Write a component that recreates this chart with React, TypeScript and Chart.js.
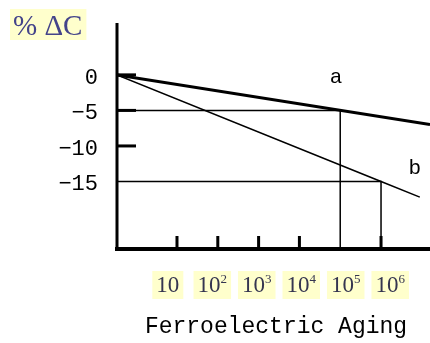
import React, { useEffect, useRef } from "react";
import { Chart, registerables } from "chart.js";

Chart.register(...registerables);

// ---- data ----
const xTickValues = [1, 2, 3, 4, 5, 6]; // log10 of aging time
const xTickExponents = ["", "2", "3", "4", "5", "6"];
const xThickTicks = [1, 2, 3, 4, 6];
const yTickValues = [0, -5, -10, -15];
const yTickLabels = ["0", "\u22125", "\u221210", "\u221215"];
const yThickTicks = [0, -5, -10];

const lineAX = [-0.47, 7.2];
const lineAY = [0, -7.0];
const lineBX = [-0.47, 6, 6.95];
const lineBY = [0, -15, -17.2];
const guide5X = [-0.47, 5, 5];
const guide5Y = [-5, -5, -24.5];
const guide15X = [-0.47, 6, 6];
const guide15Y = [-15, -15, -24.5];

const curveNames = ["a", "b"];
const curveNameX = [4.9, 6.83];
const curveNameY = [-0.3, -13.1];

const X_MIN = -0.47;
const X_MAX = 7.2;
const Y_MIN = -24.5;
const Y_MAX = 7.3;

const toPts = (xs: number[], ys: number[]) => xs.map((x, i) => ({ x, y: ys[i] }));

const decorPlugin = {
  id: "decor",
  afterDatasetsDraw(chart: any) {
    const ctx = chart.ctx as CanvasRenderingContext2D;
    const xs = chart.scales.x;
    const ys = chart.scales.y;
    const area = chart.chartArea;
    ctx.save();
    ctx.fillStyle = "#000";
    // axes
    const axL = xs.getPixelForValue(X_MIN);
    const axB = ys.getPixelForValue(Y_MIN);
    ctx.fillRect(axL - 1.5, area.top, 3, axB - area.top + 2);
    ctx.fillRect(axL - 2, axB - 2, area.right - axL + 2, 4);
    // y ticks (inward)
    yThickTicks.forEach((v) => {
      const py = ys.getPixelForValue(v);
      ctx.fillRect(axL, py - 1.5, 19, 3);
    });
    // x ticks (inward)
    xThickTicks.forEach((v) => {
      const px = xs.getPixelForValue(v);
      ctx.fillRect(px - 1.5, axB - 13, 3, 13);
    });
    // y labels
    ctx.font = "22px 'Liberation Mono'";
    ctx.textAlign = "right";
    ctx.textBaseline = "middle";
    ctx.fillStyle = "#000";
    yTickValues.forEach((v, i) => {
      const py = ys.getPixelForValue(v);
      ctx.fillText(yTickLabels[i], 98, py + 3);
    });
    // x labels with yellow background
    const tickPx = xTickValues.map((v) => xs.getPixelForValue(v));
    const mid = (tickPx[0] + tickPx[tickPx.length - 1]) / 2;
    xTickValues.forEach((v, i) => {
      const cx = mid + (tickPx[i] - mid) * 1.09;
      const base = "10";
      const exp = xTickExponents[i];
      ctx.font = "23px 'Liberation Serif'";
      const wb = ctx.measureText(base).width;
      ctx.font = "13px 'Liberation Serif'";
      const we = exp ? ctx.measureText(exp).width : 0;
      const w = wb + we;
      const left = cx - w / 2;
      ctx.fillStyle = "#ffffcc";
      ctx.fillRect(left - 4, 271, w + 8, 28);
      ctx.fillStyle = "#353550";
      ctx.textAlign = "left";
      ctx.textBaseline = "alphabetic";
      ctx.font = "23px 'Liberation Serif'";
      ctx.fillText(base, left, 292);
      if (exp) {
        ctx.font = "13px 'Liberation Serif'";
        ctx.fillText(exp, left + wb, 283);
      }
    });
    // curve names
    ctx.fillStyle = "#000";
    ctx.font = "21px 'Liberation Mono'";
    ctx.textAlign = "center";
    ctx.textBaseline = "middle";
    curveNames.forEach((n, i) => {
      ctx.fillText(n, xs.getPixelForValue(curveNameX[i]), ys.getPixelForValue(curveNameY[i]));
    });
    // axis title
    ctx.font = "23px 'Liberation Mono'";
    ctx.textAlign = "center";
    ctx.textBaseline = "alphabetic";
    ctx.fillText("Ferroelectric Aging", 276, 333);
    // y title
    ctx.font = "29px 'Liberation Serif'";
    ctx.textAlign = "left";
    const t = "% \u0394C";
    const tw = ctx.measureText(t).width;
    ctx.fillStyle = "#ffffcc";
    ctx.fillRect(10, 9, tw + 7, 31);
    ctx.fillStyle = "#44448a";
    ctx.fillText(t, 13, 35);
    ctx.restore();
  },
};

export default function App() {
  const ref = useRef<HTMLCanvasElement>(null);
  useEffect(() => {
    if (!ref.current) return;
    const lineDs = (data: any[], width: number) => ({
      data,
      borderColor: "#000",
      backgroundColor: "#000",
      borderWidth: width,
      showLine: true,
      pointRadius: 0,
      fill: false,
      tension: 0,
    });
    const chart = new Chart(ref.current, {
      type: "scatter",
      data: {
        datasets: [
          lineDs(toPts(guide5X, guide5Y), 1.5),
          lineDs(toPts(guide15X, guide15Y), 1.5),
          lineDs(toPts(lineAX, lineAY), 3),
          lineDs(toPts(lineBX, lineBY), 1.6),
        ],
      },
      options: {
        responsive: false,
        animation: false,
        layout: { padding: { left: 117, top: 23, right: 0, bottom: 94 } },
        plugins: { legend: { display: false }, tooltip: { enabled: false } },
        scales: {
          x: { type: "linear", min: X_MIN, max: X_MAX, display: false },
          y: { type: "linear", min: Y_MIN, max: Y_MAX, display: false },
        },
      },
      plugins: [decorPlugin],
    });
    return () => chart.destroy();
  }, []);
  return (
    <div style={{ position: "absolute", left: 0, top: 0, width: 430, height: 343, background: "#fff" }}>
      <canvas ref={ref} width={430} height={343} />
    </div>
  );
}
